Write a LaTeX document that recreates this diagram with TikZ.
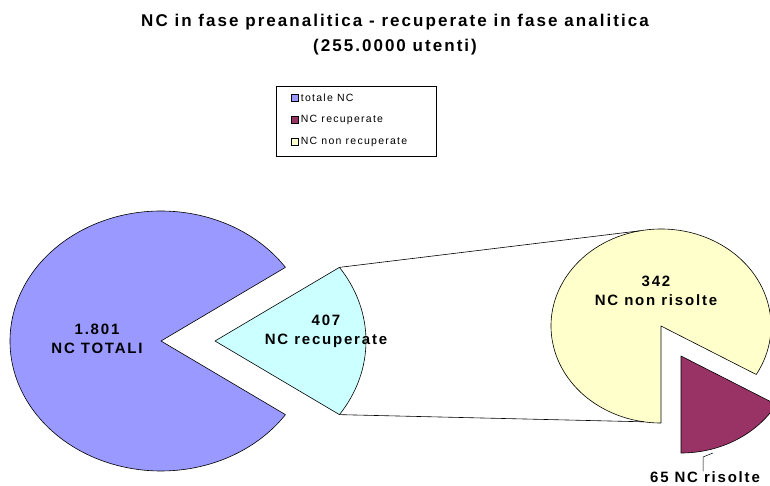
\documentclass[tikz,border=0pt]{standalone}
\usepackage{fontspec}
\setmainfont[LetterSpace=12]{Liberation Sans}
\usetikzlibrary{positioning,calc}

\definecolor{totblue}{HTML}{9999FF}
\definecolor{recmaroon}{HTML}{993366}
\definecolor{nonyellow}{HTML}{FFFFCC}
\definecolor{reccyan}{HTML}{CCFFFF}

\begin{document}
\begin{tikzpicture}[
  x=1pt, y=1pt,
  slice/.style={draw=black, line width=0.6pt, line join=round},
  lbl/.style={font=\bfseries\fontsize{15}{19}\selectfont, align=center, inner sep=0pt},
  leg/.style={font=\fontsize{10.5}{11}\selectfont, anchor=west, inner sep=0pt},
  legsq/.style={draw=black, line width=0.4pt, minimum size=7pt, inner sep=0pt},
  link/.style={draw=black, line width=0.6pt}
]
\useasboundingbox (0,0) rectangle (770,485);
\clip (0,0) rectangle (770,485);
\def\rxa{151}\def\rya{130}
\def\rxb{110}\def\ryb{97}

% ---- title ----
\node[font=\bfseries\fontsize{17}{19}\selectfont, inner sep=0pt] (title) at (395,463)
  {NC in fase preanalitica - recuperate in fase analitica};
\node[font=\bfseries\fontsize{17}{19}\selectfont, inner sep=0pt, below=9pt of title] (subtitle)
  {(255.0000 utenti)};

% ---- legend ----
\node[draw=black, line width=0.5pt, minimum width=160pt, minimum height=70pt, inner sep=0pt] (legend) at (356,364) {};
\node[legsq, fill=totblue] (sqtot) at (295,387) {};
\node[legsq, fill=recmaroon] (sqrec) at (295,365) {};
\node[legsq, fill=nonyellow] (sqnon) at (295,343) {};
\node[leg, right=2pt of sqtot] (ltot) {totale NC};
\node[leg, right=2pt of sqrec] (lrec) {NC recuperate};
\node[leg, right=2pt of sqnon] (lnon) {NC non recuperate};

% ---- pie of totals ----
\coordinate (totc) at (161,144);
\coordinate (recc) at (215,144);
\draw[slice, fill=totblue] (totc) -- ++(34.5:\rxa pt and \rya pt)
  arc[start angle=34.5, end angle=325.5, x radius=\rxa, y radius=\rya] -- cycle;
\draw[slice, fill=reccyan] (recc) -- ++(-34.5:\rxa pt and \rya pt)
  arc[start angle=-34.5, end angle=34.5, x radius=\rxa, y radius=\rya] -- cycle;
\coordinate (rectop) at ($(recc)+(34.5:\rxa pt and \rya pt)$);
\coordinate (recbot) at ($(recc)+(-34.5:\rxa pt and \rya pt)$);

% ---- pie of recovered ----
\coordinate (nonc) at (661,159);
\coordinate (risc) at (681,129);
\draw[slice, fill=nonyellow] (nonc) -- ++(-30:\rxb pt and \ryb pt)
  arc[start angle=-30, end angle=270, x radius=\rxb, y radius=\ryb] -- cycle;
\draw[slice, fill=recmaroon] (risc) -- ++(-90:\rxb pt and \ryb pt)
  arc[start angle=-90, end angle=-30, x radius=\rxb, y radius=\ryb] -- cycle;
\coordinate (nontop) at ($(nonc)+(101:\rxb pt and \ryb pt)$);
\coordinate (nonbot) at ($(nonc)+(261:\rxb pt and \ryb pt)$);

% ---- links ----
\draw[link] (rectop) -- (nontop);
\draw[link] (recbot) -- (nonbot);

% ---- labels ----
\node[lbl] (ltotali) at (97,146) {1.801\\NC TOTALI};
\node[lbl] (lrecup) at (326,154) {407\\NC recuperate};
\node[lbl] (lnonris) at (656,194) {342\\NC non risolte};
\node[lbl] (lris) at (705,8) {65 NC risolte};
\coordinate (risbend) at (703,28);
\draw[line width=0.5pt] (lris.north -| risbend) -- (risbend) -- ++(10,4);
\end{tikzpicture}
\end{document}
